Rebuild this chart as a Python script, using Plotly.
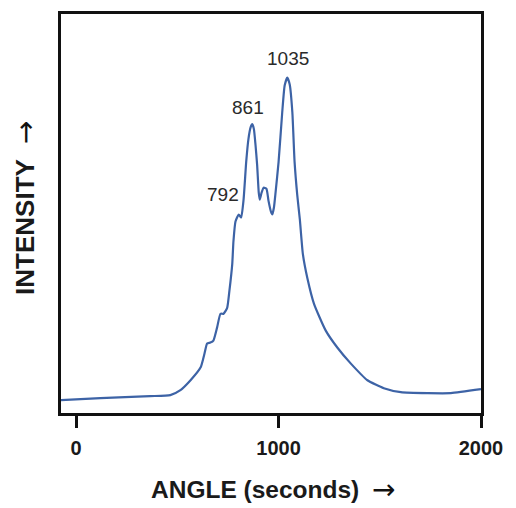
import plotly.graph_objects as go

# Angle (seconds) and intensity (arbitrary units)
angle = [-75, 120, 365, 465, 515, 565, 615, 634, 647, 663, 678, 696, 713, 728,
         746, 757, 771, 777, 787, 803, 815, 827, 840, 851, 862, 870, 878,
         886, 894, 902, 907, 916, 926, 940, 950, 962, 969, 977, 985,
         1000, 1018, 1030, 1043, 1055, 1068, 1079, 1092, 1105, 1120, 1142,
         1175, 1233, 1290, 1356, 1439, 1520, 1604, 1736, 1851, 2000]
intensity = [13, 15, 17, 18, 23, 33, 46, 60, 70, 71, 73, 86, 100, 100,
             106, 123, 150, 173, 193, 200, 197, 215, 253, 276, 288, 291, 286,
             270, 250, 222, 215, 222, 227, 226, 214, 203, 200, 207, 222,
             253, 303, 330, 338, 331, 303, 253, 220, 195, 160, 136,
             110, 83, 66, 50, 33, 25, 21, 20, 20, 24]

peak_labels = ["792", "861", "1035"]
label_x = [723, 851, 1044]
label_y = [220, 308, 357]

x_ticks = [0, 1000, 2000]
x_tick_text = ["<b>0</b>", "<b>1000</b>", "<b>2000</b>"]

FONT = "Arial, Liberation Sans, sans-serif"
ARROW_FONT = "DejaVu Sans, sans-serif"

fig = go.Figure()
fig.add_trace(go.Scatter(
    x=angle, y=intensity, mode="lines",
    line=dict(color="#3d63a6", width=2.2, shape="spline", smoothing=0.5),
    hoverinfo="skip", showlegend=False,
))

for lx, ly, lab in zip(label_x, label_y, peak_labels):
    fig.add_annotation(x=lx, y=ly, text=lab, showarrow=False,
                       font=dict(family=FONT, size=19, color="#2a2a2a"),
                       xanchor="center", yanchor="middle")

# axis titles (text + arrow)
fig.add_annotation(xref="paper", yref="paper", x=0.463, y=-0.1915,
                   text="<b>ANGLE (seconds)</b>", showarrow=False,
                   font=dict(family=FONT, size=24.5, color="#1a1a1a"),
                   xanchor="center", yanchor="middle")
fig.add_annotation(xref="paper", yref="paper", x=0.769, y=-0.1915,
                   text="→", showarrow=False,
                   font=dict(family=ARROW_FONT, size=28, color="#111111"),
                   xanchor="center", yanchor="middle")
fig.add_annotation(xref="paper", yref="paper", x=-0.0857, y=0.4664,
                   text="<b>INTENSITY</b>", showarrow=False, textangle=-90,
                   font=dict(family=FONT, size=26, color="#1a1a1a"),
                   xanchor="center", yanchor="middle")
fig.add_annotation(xref="paper", yref="paper", x=-0.0857, y=0.7015,
                   text="→", showarrow=False, textangle=-90,
                   font=dict(family=ARROW_FONT, size=28, color="#111111"),
                   xanchor="center", yanchor="middle")

fig.update_xaxes(range=[-75, 2000], tickvals=x_ticks, ticktext=x_tick_text,
                 ticks="outside", ticklen=12, tickwidth=3, tickcolor="#111",
                 showline=True, linewidth=3, linecolor="#111", mirror=True,
                 showgrid=False, zeroline=False, ticklabelstandoff=3,
                 tickfont=dict(family=FONT, size=20, color="#1a1a1a"))
fig.update_yaxes(range=[0, 402], showticklabels=False, ticks="",
                 showline=True, linewidth=3, linecolor="#111", mirror=True,
                 showgrid=False, zeroline=False)

fig.update_layout(width=516, height=508,
                  margin=dict(l=61, r=35, t=11, b=95),
                  paper_bgcolor="white", plot_bgcolor="white")

fig.write_html("out.html", config={"displayModeBar": False},
               post_script="document.body.style.margin='0';document.body.style.overflow='hidden';")
